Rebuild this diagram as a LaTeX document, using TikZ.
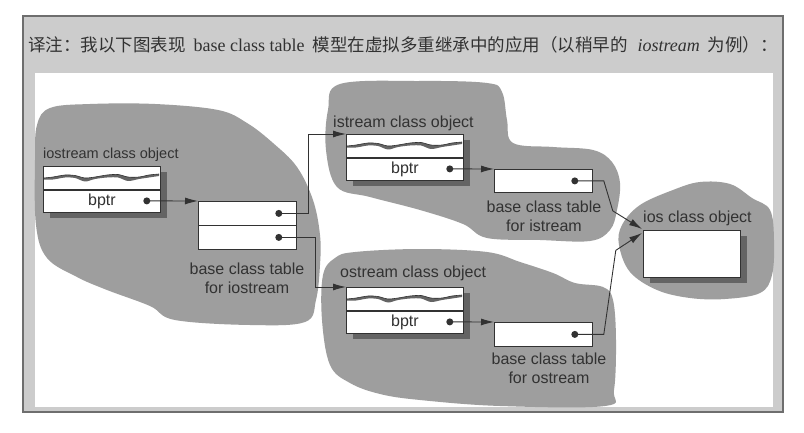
\documentclass[tikz,border=0pt]{standalone}
\usepackage{fontspec}
\setmainfont{Liberation Serif}
\setsansfont{Liberation Sans}
\newfontfamily\cjk{Noto Sans CJK SC}
\usetikzlibrary{arrows.meta,calc}

\definecolor{framegray}{RGB}{204,204,204}
\definecolor{frameline}{RGB}{110,110,110}
\definecolor{blobgray}{RGB}{158,158,158}
\definecolor{ink}{RGB}{50,50,50}
\definecolor{shadowgray}{RGB}{100,100,100}

\tikzset{
  lbl/.style={font=\sffamily\fontsize{16}{19}\selectfont, text=ink, inner sep=0pt},
  boxpart/.style={draw=ink, fill=white, line width=0.8pt, inner sep=0pt, anchor=north west,
    font=\sffamily\fontsize{16}{19}\selectfont, text=ink},
  objpart/.style={boxpart, minimum width=117pt, minimum height=23pt},
  tblrow/.style={boxpart, minimum width=98pt, minimum height=24pt},
  ptdot/.style={circle, fill=ink, inner sep=0pt, minimum size=7pt},
  conn/.style={draw=ink, line width=0.9pt, -{Latex[length=13pt,width=7pt]}},
}

% object box with shadow, wave and bptr
\newcommand{\ClassObjBox}[3]{%
  \begin{scope}[shift={(#2,#3)}]
    \fill[shadowgray] (7,6) rectangle (124,52);
    \node[objpart] (#1top) at (0,0) {};
    \node[objpart] (#1) at (0,23) {bptr};
    \fill[shadowgray] plot[smooth] coordinates {(1,12) (10,11) (22,9) (32,9.5) (42,12) (52,11) (64,9) (75,8.5) (85,11) (96,11) (106,9) (116,8)}
      -- plot[smooth] coordinates {(116,10) (106,11.5) (96,13) (85,15) (75,11.5) (64,11.5) (52,13) (42,15.5) (32,12) (22,11.5) (10,13.5) (1,13.5)} -- cycle;
    \draw[ink, line width=0.6pt] plot[smooth] coordinates {(1,12) (10,11) (22,9) (32,9.5) (42,12) (52,11) (64,9) (75,8.5) (85,11) (96,11) (106,9) (116,8)};
    \draw[ink, line width=1.6pt] (#1top.south west) -- (#1top.south east);
    \node[ptdot] (#1dot) at ($(#1.east)+(-14,0)$) {};
  \end{scope}}

\begin{document}
\begin{tikzpicture}[x=1pt,y=-1pt]
\useasboundingbox (0,0) rectangle (804,433);

% frame
\draw[frameline, line width=1.2pt, fill=framegray] (23,16) rectangle (783,412);
\fill[white] (35,73) rectangle (773,407);

% header
\node[anchor=west, inner sep=0pt, text=ink] (hdr) at (28,45)
  {\cjk\fontsize{17.5}{19}\selectfont 译注：我以下图表现\hspace{8pt}{\rmfamily\fontsize{18}{19}\selectfont base class table}\hspace{8pt}模型在虚拟多重继承中的应用（以稍早的\hspace{10pt}{\rmfamily\itshape\fontsize{18}{19}\selectfont iostream}\hspace{8pt}为例）：};

% blobs
\fill[blobgray] plot[smooth cycle, tension=0.6] coordinates {(37,125) (50,108) (90,104) (155,104) (218,110) (247,123) (273,143) (297,167) (313,200) (320,235) (320,265) (316,300) (305,322) (250,325) (175,320) (150,306) (107,290) (77,277) (47,258) (36,225) (35,160)};
\fill[blobgray] plot[smooth cycle, tension=0.6] coordinates {(328,110) (340,84) (420,81) (487,83) (502,92) (507,120) (513,143) (553,147) (593,150) (612,162) (620,183) (617,210) (610,230) (590,241) (540,240) (487,238) (463,224) (420,210) (370,197) (337,187) (326,150)};
\fill[blobgray] plot[smooth cycle, tension=0.6] coordinates {(323,275) (335,258) (355,252) (420,249) (487,252) (520,262) (553,273) (575,283) (603,287) (613,300) (616,340) (614,390) (605,406) (500,406) (420,400) (380,394) (350,383) (330,365) (322,320)};
\fill[blobgray] plot[smooth cycle, tension=0.6] coordinates {(622,225) (640,205) (673,190) (700,182) (730,184) (752,198) (770,210) (774,240) (772,275) (760,293) (725,299) (690,298) (657,290) (630,272) (619,245)};

% class objects
\node[lbl, anchor=west, font=\sffamily\fontsize{14.5}{17}\selectfont] (iolbl) at (43,155) {iostream class object};
\ClassObjBox{io}{43}{166}
\node[lbl, anchor=west] (islbl) at (333,123) {istream class object};
\ClassObjBox{is}{346}{134}
\node[lbl, anchor=west] (oslbl) at (340,273) {ostream class object};
\ClassObjBox{os}{346}{287}

% ios object
\fill[shadowgray] (650,236) rectangle (747,283);
\node[boxpart, minimum width=97pt, minimum height=47pt] (ios) at (643,230) {};
\node[lbl, anchor=west] (ioslbl) at (643,218) {ios class object};

% base class tables
\node[tblrow] (tioa) at (198,201) {};
\node[tblrow] (tiob) at (198,225) {};
\node[ptdot] (tioadot) at ($(tioa.east)+(-18,0)$) {};
\node[ptdot] (tiobdot) at ($(tiob.east)+(-18,0)$) {};
\node[lbl, align=center] (tiolbl) at (247,278) {base class table\\for iostream};

\node[tblrow, minimum height=23pt] (tis) at (494,169) {};
\node[ptdot] (tisdot) at ($(tis.east)+(-18,0)$) {};
\node[lbl, align=center] (tislbl) at (544,216) {base class table\\for istream};

\node[tblrow] (tos) at (494,322) {};
\node[ptdot] (tosdot) at ($(tos.east)+(-18,0)$) {};
\node[lbl, align=center] (toslbl) at (549,368) {base class table\\for ostream};

% connectors
\draw[conn] (iodot.center) -- (tioa.north west);
\draw[conn] (tioadot.center) -| ($(istop.north west)+(-38,0)$) -- (istop.north west);
\draw[conn] (tiobdot.center) -| ($(ostop.north west)+(-31,0)$) -- (ostop.north west);
\draw[conn] (isdot.center) -- (tis.north west);
\draw[conn] (osdot.center) -- (tos.north west);
\draw[conn] (tisdot.center) -- ++(29,0) -- ++(9,30) -- ($(ios.north west)+(-1,-1)$);
\draw[conn] (tosdot.center) -- ++(29,0) -- ++(12,-84) -- ($(ios.north west)+(-1,3)$);
\end{tikzpicture}
\end{document}
